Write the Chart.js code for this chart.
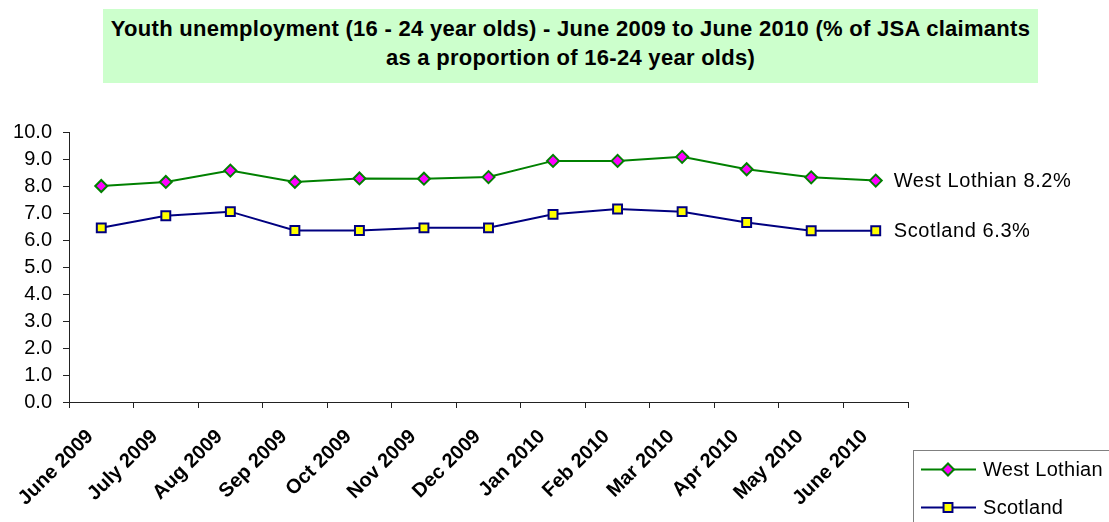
<!DOCTYPE html>
<html>
<head>
<meta charset="utf-8">
<script src="https://cdn.jsdelivr.net/npm/chart.js@4.4.1/dist/chart.umd.min.js"></script>
<style>
html,body{margin:0;padding:0;background:#fff;}
#wrap{position:relative;width:1109px;height:522px;overflow:hidden;background:#fff;}
#c{position:absolute;left:0;top:0;}
#title{position:absolute;left:103px;top:9px;width:935px;height:74px;background:#CCFFCC;box-sizing:border-box;padding-top:5px;text-align:center;font-family:"Liberation Sans",Arial,sans-serif;font-weight:bold;font-size:22px;line-height:29px;letter-spacing:0.28px;white-space:nowrap;color:#000;}
</style>
</head>
<body>
<div id="wrap">
<canvas id="c" width="1109" height="522"></canvas>
<div id="title">Youth unemployment (16 - 24 year olds) - June 2009 to June 2010 (% of JSA claimants<br>as a proportion of 16-24 year olds)</div>
</div>
<script>
const categories = ['June 2009','July 2009','Aug 2009','Sep 2009','Oct 2009','Nov 2009','Dec 2009','Jan 2010','Feb 2010','Mar 2010','Apr 2010','May 2010','June 2010'];
const westLothian = [8.0, 8.15, 8.57, 8.15, 8.28, 8.27, 8.33, 8.93, 8.93, 9.08, 8.62, 8.32, 8.2];
const scotland = [6.45, 6.9, 7.05, 6.35, 6.35, 6.45, 6.45, 6.95, 7.15, 7.05, 6.65, 6.34, 6.34];
const seriesNames = ['West Lothian', 'Scotland'];
const yMin = 0, yMax = 10, yStep = 1;

const FONT = '"Liberation Sans", Arial, sans-serif';
const GREEN = '#008000', MAGENTA = '#FF00FF', NAVY = '#000080', YELLOW = '#FFFF00';
const DIAMOND_R = 6, SQUARE_R = 6.3;

function drawMarker(ctx, style, x, y, fill, stroke) {
  ctx.save();
  ctx.beginPath();
  if (style === 'rectRot') {
    const r = DIAMOND_R;
    ctx.moveTo(x - r, y); ctx.lineTo(x, y - r); ctx.lineTo(x + r, y); ctx.lineTo(x, y + r); ctx.closePath();
  } else {
    const h = SQUARE_R * Math.SQRT1_2;
    ctx.rect(x - h, y - h, 2 * h, 2 * h);
  }
  ctx.fillStyle = fill; ctx.fill();
  ctx.lineWidth = 2; ctx.strokeStyle = stroke; ctx.stroke();
  ctx.restore();
}

const endLabels = {
  id: 'endLabels',
  afterDatasetsDraw(chart) {
    const ctx = chart.ctx;
    ctx.save();
    ctx.font = '20px ' + FONT;
    ctx.fillStyle = '#000';
    ctx.textBaseline = 'middle';
    ctx.textAlign = 'left';
    if ('letterSpacing' in ctx) ctx.letterSpacing = '0.6px';
    chart.data.datasets.forEach((ds, i) => {
      const meta = chart.getDatasetMeta(i);
      const pt = meta.data[meta.data.length - 1];
      const v = ds.data[ds.data.length - 1];
      ctx.fillText(ds.label + ' ' + v.toFixed(1) + '%', pt.x + 18, pt.y + 1);
    });
    ctx.restore();
  }
};

const boxLegend = {
  id: 'boxLegend',
  afterDraw(chart) {
    const ctx = chart.ctx;
    ctx.save();
    ctx.strokeStyle = '#808080';
    ctx.lineWidth = 1;
    ctx.strokeRect(913.5, 450.5, 300, 120);
    const rows = [469.5, 507.5];
    chart.data.datasets.forEach((ds, i) => {
      const y = rows[i];
      ctx.beginPath();
      ctx.moveTo(921, y); ctx.lineTo(976, y);
      ctx.strokeStyle = ds.borderColor; ctx.lineWidth = 2; ctx.stroke();
      drawMarker(ctx, ds.pointStyle, 948, y, ds.pointBackgroundColor, ds.pointBorderColor);
      ctx.font = '20px ' + FONT;
      ctx.fillStyle = '#000';
      ctx.textBaseline = 'middle';
      ctx.textAlign = 'left';
      if ('letterSpacing' in ctx) ctx.letterSpacing = '0.3px';
      ctx.fillText(ds.label, 983, y + 1);
      if ('letterSpacing' in ctx) ctx.letterSpacing = '0px';
    });
    ctx.restore();
  }
};

new Chart(document.getElementById('c'), {
  type: 'line',
  data: {
    labels: categories,
    datasets: [
      {
        label: seriesNames[0], data: westLothian,
        borderColor: GREEN, borderWidth: 2,
        pointStyle: 'rectRot', pointRadius: DIAMOND_R, pointBorderWidth: 2,
        pointBackgroundColor: MAGENTA, pointBorderColor: GREEN,
        tension: 0, fill: false
      },
      {
        label: seriesNames[1], data: scotland,
        borderColor: NAVY, borderWidth: 2,
        pointStyle: 'rect', pointRadius: SQUARE_R, pointBorderWidth: 2,
        pointBackgroundColor: YELLOW, pointBorderColor: NAVY,
        tension: 0, fill: false
      }
    ]
  },
  options: {
    responsive: false,
    animation: false,
    devicePixelRatio: 1,
    layout: { padding: { top: 132, right: 201, left: 0, bottom: 0 } },
    plugins: { legend: { display: false }, title: { display: false }, tooltip: { enabled: false } },
    scales: {
      x: {
        type: 'category',
        offset: true,
        grid: { offset: true, drawOnChartArea: false, tickLength: 6, color: '#222', lineWidth: 1 },
        border: { color: '#222', width: 1 },
        ticks: {
          color: '#000', autoSkip: false, minRotation: 45, maxRotation: 45,
          padding: 17, labelOffset: -11,
          font: { family: FONT, size: 20, weight: 'bold' }
        },
        afterFit(s) { s.height = 120; }
      },
      y: {
        min: yMin, max: yMax,
        grid: { drawOnChartArea: false, tickLength: 6, color: '#222', lineWidth: 1 },
        border: { color: '#222', width: 1 },
        ticks: {
          stepSize: yStep, color: '#000', padding: 11,
          font: { family: FONT, size: 20 },
          callback: v => Number(v).toFixed(1)
        },
        afterFit(s) { s.width = 69; }
      }
    }
  },
  plugins: [endLabels, boxLegend]
});
</script>
</body>
</html>
